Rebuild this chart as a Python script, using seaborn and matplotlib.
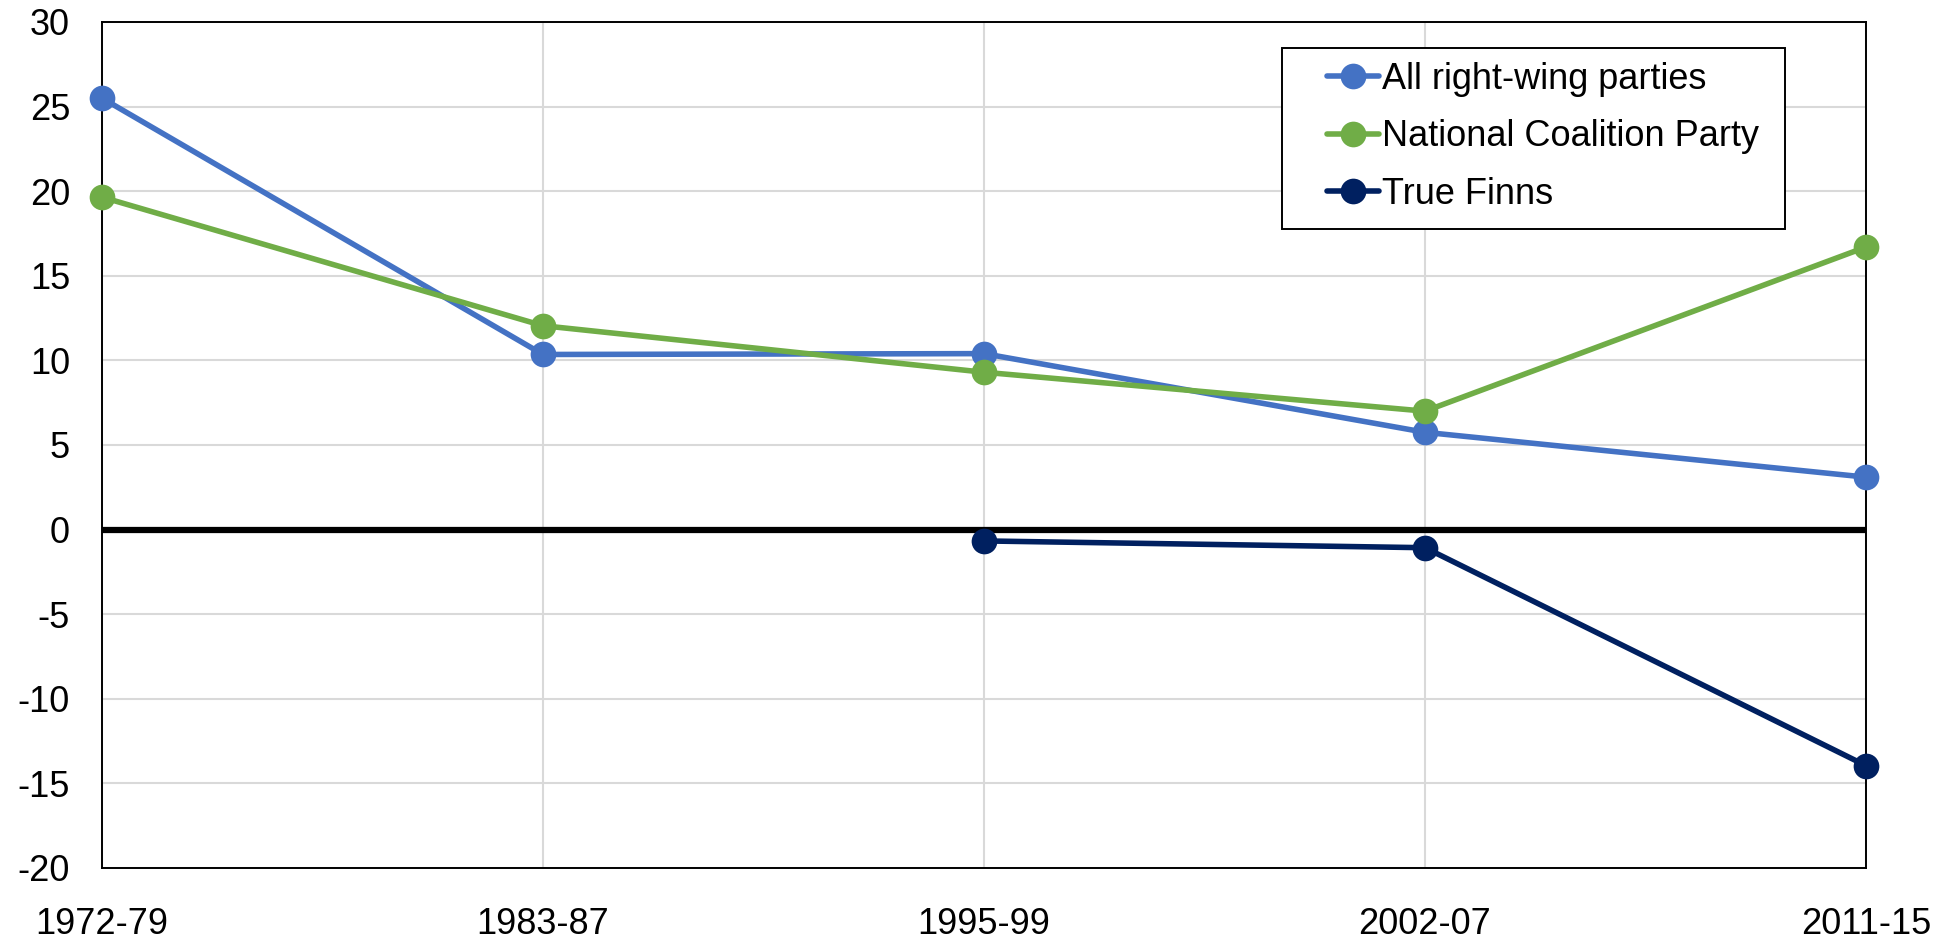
import numpy as np
import pandas as pd
from matplotlib import pyplot as plt
from matplotlib.patches import Rectangle
import seaborn as sns

periods = ['1972-79', '1983-87', '1995-99', '2002-07', '2011-15']
all_right = [25.5, 10.35, 10.4, 5.75, 3.1]
national_coalition = [19.65, 12.05, 9.3, 7.0, 16.7]
true_finns = [np.nan, np.nan, -0.67, -1.07, -13.95]

series_names = ['All right-wing parties', 'National Coalition Party', 'True Finns']
series_colors = ['#4472C4', '#70AD47', '#002060']

# long form table for seaborn
rows = []
for name, vals in zip(series_names, [all_right, national_coalition, true_finns]):
    for i, v in enumerate(vals):
        rows.append({'pos': i, 'value': v, 'series': name})
df = pd.DataFrame(rows).dropna()

sns.set_style('white')
plt.rcParams['font.family'] = ['Liberation Sans', 'DejaVu Sans']
plt.rcParams['axes.unicode_minus'] = False
plt.rcParams['text.color'] = 'black'

fig = plt.figure(figsize=(19.57, 9.4), dpi=100)
ax = fig.add_axes([0.0521, 0.0766, 0.9014, 0.9])

sns.lineplot(data=df, x='pos', y='value', hue='series', hue_order=series_names,
             palette=series_colors, marker='o', markersize=18.5, markeredgewidth=0,
             linewidth=4, ax=ax, legend=False, zorder=3, clip_on=False)

ax.axhline(0, color='black', linewidth=4.5, zorder=2)

ax.set_xlim(0, len(periods) - 1)
ax.set_ylim(-20, 30)
ax.set_xticks(range(len(periods)))
ax.set_xticklabels(periods)
ax.set_yticks(range(-20, 31, 5))
ax.set_xlabel('')
ax.set_ylabel('')
ax.grid(True, color='#D9D9D9', linewidth=1.5, zorder=0)
ax.set_axisbelow(True)
ax.tick_params(axis='both', length=0, labelsize=26, colors='black')
ax.tick_params(axis='y', pad=23)
ax.tick_params(axis='x', pad=28)
for s in ax.spines.values():
    s.set_visible(True)
    s.set_color('black')
    s.set_linewidth(1.4)

# legend box drawn separately (Excel style padding)
W, H = 1957, 940
fig.patches.append(Rectangle((1282 / W, 1 - 229 / H), 503 / W, 181 / H,
                             transform=fig.transFigure, facecolor='white',
                             edgecolor='black', linewidth=1.4, zorder=5))

handles = [plt.Line2D([], [], color=c, linewidth=4, marker='o', markersize=18.5,
                      markeredgewidth=0) for c in series_colors]
leg = fig.legend(handles, series_names, loc='upper left',
                 bbox_to_anchor=(1327 / W, 1 - 62 / H), fontsize=26, frameon=False,
                 handlelength=1.45, handletextpad=0.08, labelspacing=0.62,
                 borderpad=0, borderaxespad=0, labelcolor='black')
leg.set_zorder(6)

fig.savefig('out.png', dpi=100)
